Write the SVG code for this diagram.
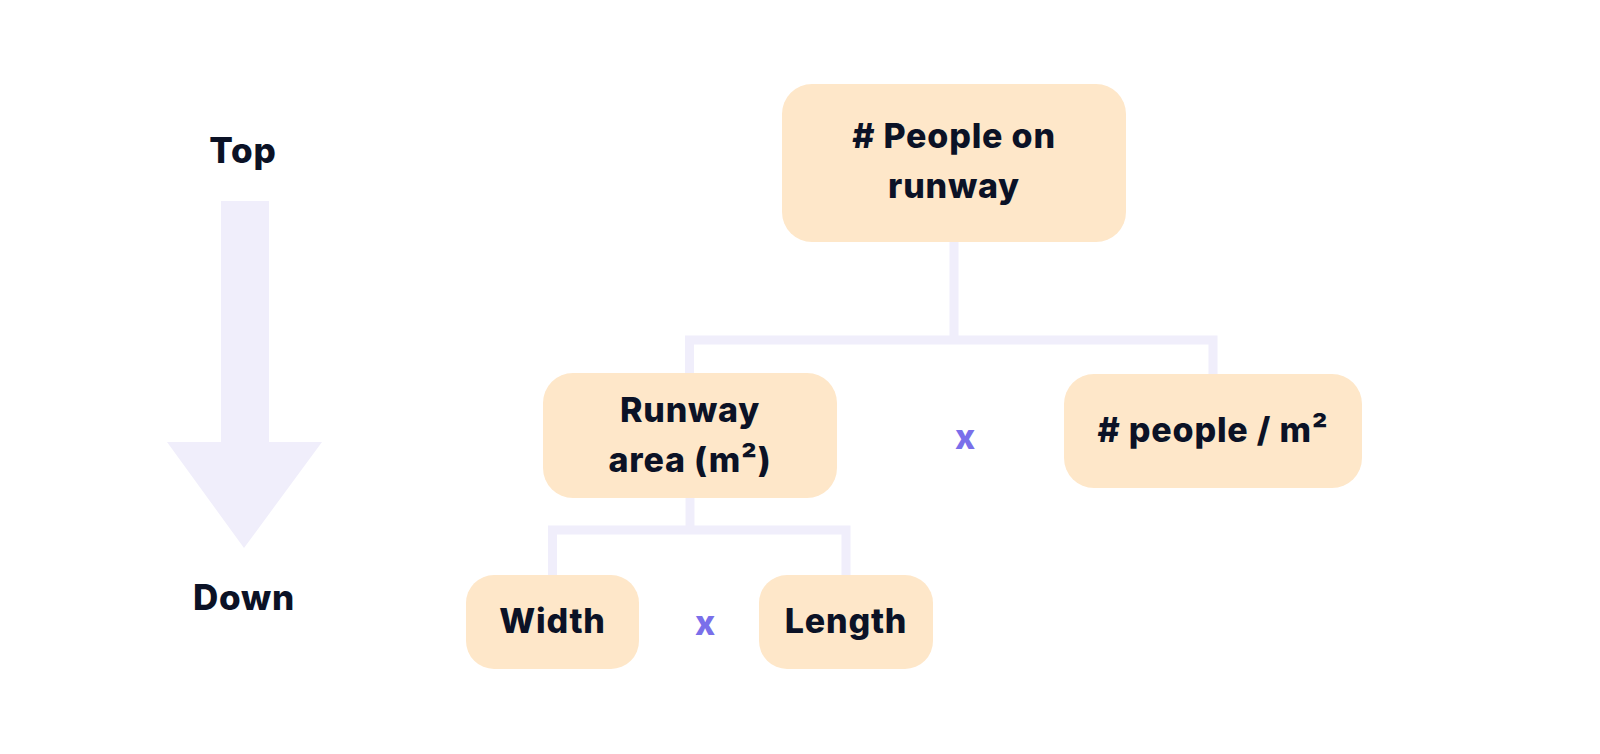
<svg xmlns="http://www.w3.org/2000/svg" width="1600" height="754" viewBox="0 0 1600 754">
<style>
.box{fill:#FEE7C9}
.t{font-family:Inter,"Liberation Sans",sans-serif;font-weight:800;font-size:34px;letter-spacing:0.8px;fill:#0B1226;text-anchor:middle}
.x{font-family:Inter,"Liberation Sans",sans-serif;font-weight:800;font-size:34px;fill:#7A6FEA;text-anchor:middle}
.c{fill:none;stroke:#F0EEFB;stroke-width:9}
</style>
<rect width="1600" height="754" fill="#FFFFFF"/>
<g id="direction">
<path d="M221 201 H269 V442 H322 L244 548 L167 442 H221 Z" fill="#F0EEFB"/>
<text class="t" x="243" y="163" style="font-size:35px">Top</text>
<text class="t" x="244" y="610" style="font-size:35px">Down</text>
</g>
<g id="connectors">
<path class="c" d="M954 240 V340"/>
<path class="c" d="M689.5 375 V340 H1213 V376"/>
<path class="c" d="M690 496 V530"/>
<path class="c" d="M552.5 577 V530 H846 V577"/>
</g>
<g id="people-on-runway">
<rect class="box" x="782" y="84" width="344" height="158" rx="30"/>
<text class="t" x="954" y="148">#&#160;People on</text>
<text class="t" x="954" y="198">runway</text>
</g>
<g id="runway-area">
<rect class="box" x="543" y="373" width="294" height="125" rx="30"/>
<text class="t" x="690" y="422">Runway</text>
<text class="t" x="690" y="472">area (m²)</text>
</g>
<g id="people-per-m2">
<rect class="box" x="1064" y="374" width="298" height="114" rx="30"/>
<text class="t" x="1213" y="442">#&#160;people / m²</text>
</g>
<g id="width">
<rect class="box" x="466" y="575" width="173" height="94" rx="28"/>
<text class="t" x="552.5" y="633">Width</text>
</g>
<g id="length">
<rect class="box" x="759" y="575" width="174" height="94" rx="28"/>
<text class="t" x="846" y="633">Length</text>
</g>
<text class="x" x="965" y="449">x</text>
<text class="x" x="705" y="635">x</text>
</svg>
